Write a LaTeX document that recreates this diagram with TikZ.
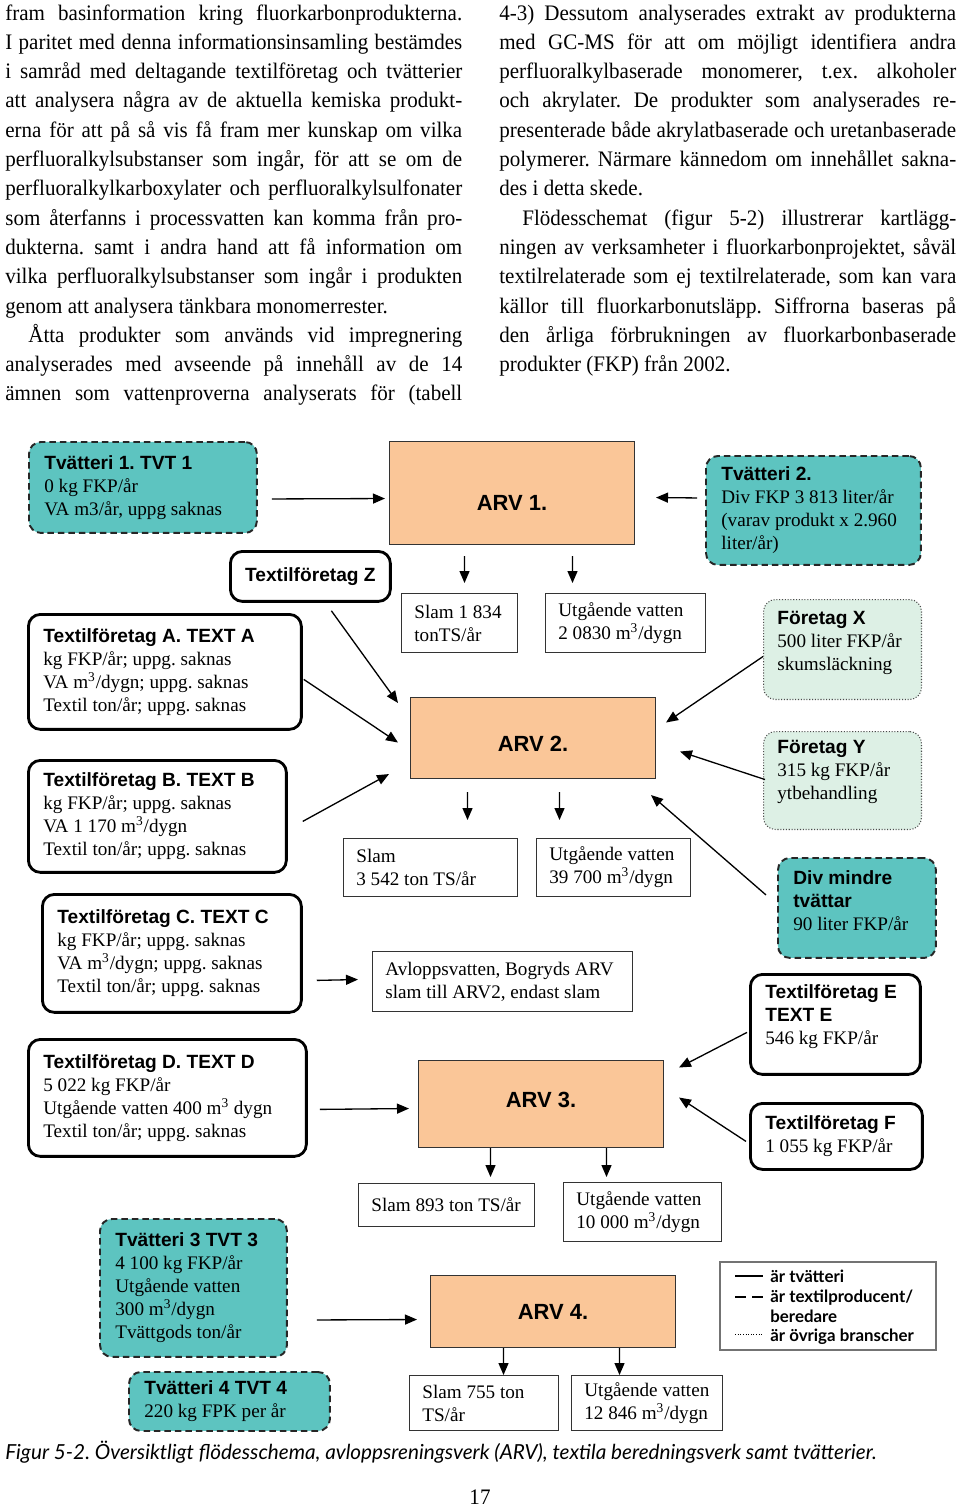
\documentclass[tikz,border=0pt]{standalone}
\usepackage{fontspec}
\setmainfont{Liberation Serif}
\setsansfont{Liberation Sans}
\newfontfamily\bodyfont[FakeStretch=0.95]{Liberation Serif}
\newfontfamily\capfont{Lato}
\usepackage{tikz}
\usetikzlibrary{arrows.meta,calc,positioning}
\frenchspacing

\definecolor{tvtteal}{RGB}{93,196,192}
\definecolor{arvpeach}{RGB}{250,198,152}
\definecolor{ovrgreen}{RGB}{221,240,229}

\newcommand\diagfont{\fontsize{10.9}{13.1}\selectfont}
\newcommand\boxhead[1]{{\sffamily\bfseries\fontsize{10.9}{13.1}\selectfont #1}}

\begin{document}
\begin{tikzpicture}[x=0.02cm,y=-0.02cm,>={Triangle[length=2.4mm,width=2mm]},font=\diagfont]%flow chart

      \tikzstyle{column}=[anchor=base west,inner sep=0pt,text width=9.14cm,align=justify,
                          font=\bodyfont\fontsize{12.6}{16.68}\selectfont]
      \tikzstyle{tvt}=[anchor=north west,inner sep=0pt,draw=black!85,fill=tvtteal,line width=1.1pt,
                       dash pattern=on 1.3mm off 0.8mm,rounded corners=2.4mm]
      \tikzstyle{firm}=[anchor=north west,inner sep=0pt,draw=black,line width=1.6pt,rounded corners=2.4mm]
      \tikzstyle{other}=[anchor=north west,inner sep=0pt,draw=black!70,fill=ovrgreen,line width=0.6pt,
                         densely dotted,rounded corners=2.4mm]
      \tikzstyle{plain}=[anchor=north west,inner sep=0pt,draw=black!80,line width=0.6pt]
      \tikzstyle{arv}=[anchor=north west,draw=black!80,fill=arvpeach,line width=0.6pt,minimum width=4.9cm,
                       font=\sffamily\bfseries\fontsize{12.5}{15}\selectfont]
      \tikzstyle{intext}=[anchor=west,align=left,inner ysep=0pt,inner xsep=0.32cm]
      \tikzstyle{plaintext}=[anchor=west,align=left,inner ysep=0pt,inner xsep=0.26cm]
      \tikzstyle{flow}=[->,line width=0.75pt]

      \path[use as bounding box,fill=white] (0,0) rectangle (960,1508);

      %page text
      \node [column] (colleft) at (5,20) {fram basinformation kring fluorkarbonprodukterna.\linebreak
        I paritet med denna informationsinsamling bestämdes\linebreak
        i samråd med deltagande textilföretag och tvätterier\linebreak
        att analysera några av de aktuella kemiska produkt-\linebreak
        erna för att på så vis få fram mer kunskap om vilka\linebreak
        perfluoralkylsubstanser som ingår, för att se om de\linebreak
        perfluoralkylkarboxylater och perfluoralkylsulfonater\linebreak
        som återfanns i processvatten kan komma från pro-\linebreak
        dukterna. samt i andra hand att få information om\linebreak
        vilka perfluoralkylsubstanser som ingår i produkten\linebreak
        genom att analysera tänkbara monomerrester.\par
        \hspace*{0.46cm}Åtta produkter som används vid impregnering\linebreak
        analyserades med avseende på innehåll av de 14\linebreak
        ämnen som vattenproverna analyserats för (tabell\parfillskip=0pt\par};
      \node [column] (colright) at (499,20) {4-3) Dessutom analyserades extrakt av produkterna\linebreak
        med GC-MS för att om möjligt identifiera andra\linebreak
        perfluoralkylbaserade monomerer, t.ex. alkoholer\linebreak
        och akrylater. De produkter som analyserades re-\linebreak
        presenterade både akrylatbaserade och uretanbaserade\linebreak
        polymerer. Närmare kännedom om innehållet sakna-\linebreak
        des i detta skede.\par
        \hspace*{0.46cm}Flödesschemat (figur 5-2) illustrerar kartlägg-\linebreak
        ningen av verksamheter i fluorkarbonprojektet, såväl\linebreak
        textilrelaterade som ej textilrelaterade, som kan vara\linebreak
        källor till fluorkarbonutsläpp. Siffrorna baseras på\linebreak
        den årliga förbrukningen av fluorkarbonbaserade\linebreak
        produkter (FKP) från 2002.\par};

      %sewage plants
      \node [arv,minimum height=2.06cm,text height=0.71cm,text depth=0cm] (arv1) at (389,441)  {ARV 1.};
      \node [arv,minimum height=1.62cm,text height=0.53cm,text depth=0cm] (arv2) at (410,697)  {ARV 2.};
      \node [arv,minimum height=1.74cm,text height=0.32cm,text depth=0.2cm] (arv3) at (418,1060) {ARV 3.};
      \node [arv,minimum height=1.44cm] (arv4) at (430,1275) {ARV 4.};

      %laundries
      \node [tvt,minimum width=4.56cm,minimum height=1.82cm,
        label={[intext]west:{\boxhead{Tvätteri 1. TVT 1}\\0 kg FKP/år\\VA m3/år, uppg saknas}}] (tvt1) at (28,441) {};
      \node [tvt,minimum width=4.30cm,minimum height=2.18cm,
        label={[intext]west:{\boxhead{Tvätteri 2.}\\Div FKP 3 813 liter/år\\(varav produkt x 2.960\\liter/år)}}] (tvt2) at (705,455) {};
      \node [tvt,minimum width=3.16cm,minimum height=2.00cm,
        label={[intext,yshift=0.14cm]west:{\boxhead{Div mindre}\\\boxhead{tvättar}\\90 liter FKP/år}}] (divm) at (777,857) {};
      \node [tvt,minimum width=3.74cm,minimum height=2.76cm,
        label={[intext]west:{\boxhead{Tvätteri 3 TVT 3}\\4 100 kg FKP/år\\Utgående vatten\\300 m\textsuperscript{3}/dygn\\Tvättgods ton/år}}] (tvt3) at (99,1218) {};
      \node [tvt,minimum width=4.02cm,minimum height=1.18cm,
        label={[intext]west:{\boxhead{Tvätteri 4 TVT 4}\\220 kg FPK per år}}] (tvt4) at (128,1371) {};

      %textile companies
      \node [firm,minimum width=3.2cm,minimum height=1.0cm] (txz) at (229,550) {\boxhead{Textilföretag Z}};
      \node [firm,minimum width=5.46cm,minimum height=2.30cm,
        label={[intext]west:{\boxhead{Textilföretag A. TEXT A}\\kg FKP/år; uppg. saknas\\VA m\textsuperscript{3}/dygn; uppg. saknas\\Textil ton/år; uppg. saknas}}] (txa) at (27,613) {};
      \node [firm,minimum width=5.16cm,minimum height=2.24cm,
        label={[intext]west:{\boxhead{Textilföretag B. TEXT B}\\kg FKP/år; uppg. saknas\\VA 1 170 m\textsuperscript{3}/dygn\\Textil ton/år; uppg. saknas}}] (txb) at (27,759) {};
      \node [firm,minimum width=5.18cm,minimum height=2.36cm,
        label={[intext]west:{\boxhead{Textilföretag C. TEXT C}\\kg FKP/år; uppg. saknas\\VA m\textsuperscript{3}/dygn; uppg. saknas\\Textil ton/år; uppg. saknas}}] (txc) at (41,893) {};
      \node [firm,minimum width=5.56cm,minimum height=2.34cm,
        label={[intext]west:{\boxhead{Textilföretag D. TEXT D}\\5 022 kg FKP/år\\Utgående vatten 400 m\textsuperscript{3} dygn\\Textil ton/år; uppg. saknas}}] (txd) at (27,1038) {};
      \node [firm,minimum width=3.40cm,minimum height=2.00cm,
        label={[intext,yshift=0.15cm]west:{\boxhead{Textilföretag E}\\\boxhead{TEXT E}\\546 kg FKP/år}}] (txe) at (749,973) {};
      \node [firm,minimum width=3.44cm,minimum height=1.32cm,
        label={[intext]west:{\boxhead{Textilföretag F}\\1 055 kg FKP/år}}] (txf) at (749,1102) {};

      %other trades
      \node [other,minimum width=3.16cm,minimum height=2.00cm,
        label={[intext,xshift=-0.04cm,yshift=0.14cm]west:{\boxhead{Företag X}\\500 liter FKP/år\\skumsläckning}}] (ftx) at (763,599) {};
      \node [other,minimum width=3.16cm,minimum height=1.96cm,
        label={[intext,xshift=-0.04cm,yshift=0.18cm]west:{\boxhead{Företag Y}\\315 kg FKP/år\\ytbehandling}}] (fty) at (763,731) {};

      %sludge and outgoing water
      \node [plain,minimum width=2.32cm,minimum height=1.18cm,label={[plaintext]west:{Slam 1 834\\tonTS/år}}] (slam1) at (401,593) {};
      \node [plain,minimum width=3.20cm,minimum height=1.18cm,label={[plaintext]west:{Utgående vatten\\2 0830 m\textsuperscript{3}/dygn}}] (utg1) at (545,593) {};
      \node [plain,minimum width=3.48cm,minimum height=1.16cm,label={[plaintext]west:{Slam\\3 542 ton TS/år}}] (slam2) at (343,838) {};
      \node [plain,minimum width=3.08cm,minimum height=1.16cm,label={[plaintext]west:{Utgående vatten\\39 700 m\textsuperscript{3}/dygn}}] (utg2) at (536,838) {};
      \node [plain,minimum width=5.20cm,minimum height=1.20cm,label={[plaintext]west:{Avloppsvatten, Bogryds ARV\\slam till ARV2, endast slam}}] (avl) at (372,951) {};
      \node [plain,minimum width=3.52cm,minimum height=0.86cm,label={[plaintext]west:{Slam 893 ton TS/år}}] (slam3) at (358,1183) {};
      \node [plain,minimum width=3.16cm,minimum height=1.18cm,label={[plaintext]west:{Utgående vatten\\10 000 m\textsuperscript{3}/dygn}}] (utg3) at (563,1182) {};
      \node [plain,minimum width=2.98cm,minimum height=1.10cm,label={[plaintext]west:{Slam 755 ton\\TS/år}}] (slam4) at (409,1375) {};
      \node [plain,minimum width=3.02cm,minimum height=1.10cm,label={[plaintext]west:{Utgående vatten\\12 846 m\textsuperscript{3}/dygn}}] (utg4) at (571,1375) {};

      %arrows into ARV 1
      \draw [flow] ($(tvt1.east)+(14,11.5)$) -- ($(arv1.west)+(-4,5.5)$);
      \draw [flow] ($(tvt2.west)+(-8,-12.5)$) -- ($(arv1.east)+(21,4.5)$);
      \draw [flow] ($(arv1.south)+(-47.5,11)$) -- ($(slam1.north)+(5,-10)$);
      \draw [flow] ($(arv1.south)+(60.5,11)$) -- ($(utg1.north)+(-53,-10)$);

      %arrows into ARV 2
      \draw [flow] ($(txz.south)+(21,8)$) -- ($(arv2.north west)+(-12,6)$);
      \draw [flow] ($(txa.east)+(1,7.5)$) -- ($(arv2.west)+(-12,4.5)$);
      \draw [flow] ($(txb.east)+(15,5)$) -- ($(arv2.south west)+(-21,-5)$);
      \draw [flow] ($(ftx.west)+(0,7)$) -- ($(arv2.east)+(10,-15.5)$);
      \draw [flow] ($(fty.west)+(2,-1)$) -- ($(arv2.east)+(24,13.5)$);
      \draw [flow] ($(divm.west)+(-11,-13)$) -- ($(arv2.south east)+(-5,16)$);
      \draw [flow] ($(arv2.south)+(-65.5,13)$) -- ($(slam2.north)+(37,-18)$);
      \draw [flow] ($(arv2.south)+(26.5,13)$) -- ($(utg2.north)+(-54,-18)$);
      \draw [flow] ($(txc.east)+(14,27)$) -- ($(avl.west)+(-14,-2)$);

      %arrows into ARV 3
      \draw [flow] ($(txd.east)+(12,11.5)$) -- ($(arv3.west)+(-9,4.5)$);
      \draw [flow] ($(txe.west)+(-2,8)$) -- ($(arv3.east)+(15,-36.5)$);
      \draw [flow] ($(txf.west)+(-3,5)$) -- ($(arv3.east)+(15,-6.5)$);
      \draw [flow] ($(arv3.south)+(-50.5,0)$) -- ($(slam3.north)+(44,-6)$);
      \draw [flow] ($(arv3.south)+(65.5,0)$) -- ($(utg3.north)+(-36,-5)$);

      %arrows into ARV 4
      \draw [flow] ($(tvt3.east)+(29,32)$) -- ($(arv4.west)+(-13,8)$);
      \draw [flow] ($(arv4.south)+(-49.5,0)$) -- ($(slam4.north)+(19.5,0)$);
      \draw [flow] ($(arv4.south)+(66.5,0)$) -- ($(utg4.north)+(-27.5,0)$);

      %legend
      \node [anchor=north west,inner sep=0pt,draw=black!55,line width=0.9pt,minimum width=4.32cm,minimum height=1.76cm] (legend) at (719,1261) {};
      \node [anchor=north west,inner sep=0pt,align=left,font=\capfont\bfseries\fontsize{9.6}{11.2}\selectfont] (legtext)
        at ($(legend.north west)+(51,9)$) {är tvätteri\\är textilproducent/\\beredare\\är övriga branscher};
      \draw [line width=1.2pt] ($(legend.north west)+(16,15)$) -- ++(28,0);
      \draw [line width=1.2pt,dash pattern=on 2.2mm off 1.2mm] ($(legend.north west)+(16,36)$) -- ++(28,0);
      \draw [line width=0.5pt,densely dotted] ($(legend.north west)+(16,73)$) -- ++(28,0);

      %caption and page number
      \node [anchor=base west,inner sep=0pt,font=\capfont\itshape\fontsize{11.8}{14}\selectfont] (caption) at (5,1459)
        {Figur 5-2. Översiktligt flödesschema, avloppsreningsverk (ARV), textila beredningsverk samt tvätterier.};
      \node [anchor=base,inner sep=0pt,font=\bodyfont\fontsize{12.6}{15}\selectfont] (pageno) at (480,1504) {17};

\end{tikzpicture}
\end{document}
